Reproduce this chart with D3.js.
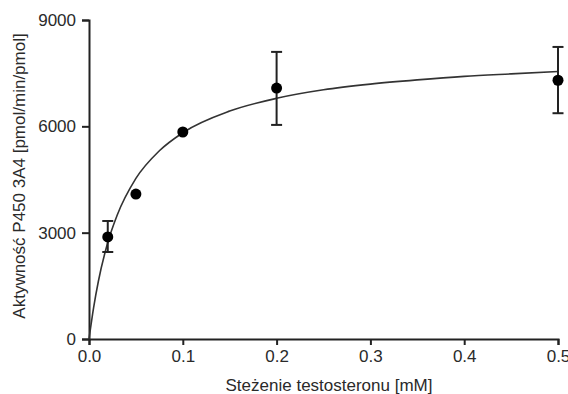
<!DOCTYPE html>
<html><head><meta charset="utf-8">
<script src="https://cdn.jsdelivr.net/npm/d3@7"></script>
<style>body{margin:0;background:#fff}text{font-family:"Liberation Sans",Arial,sans-serif}</style>
</head><body><svg id="c" width="568" height="394"></svg>
<script>
const conc = [0.02, 0.05, 0.1, 0.2, 0.5];
const activity = [2880, 4090, 5840, 7080, 7300];
const errLow = [2455, 4090, 5840, 6040, 6370];
const errHigh = [3330, 4090, 5840, 8100, 8240];
const fitX = [0, 0.005, 0.01, 0.02, 0.03, 0.05, 0.075, 0.1, 0.15, 0.2, 0.25, 0.3, 0.35, 0.4, 0.45, 0.5];
const fitY = [0, 900, 1630, 2720, 3490, 4530, 5310, 5820, 6430, 6790, 7030, 7190, 7310, 7410, 7480, 7545];
const xTicks = [0, 0.1, 0.2, 0.3, 0.4, 0.5];
const yTicks = [0, 3000, 6000, 9000];
const xLabel = "Steżenie testosteronu [mM]";
const yLabel = "Aktywność P450 3A4 [pmol/min/pmol]";

const svg = d3.select("#c");
const x = d3.scaleLinear().domain([0, 0.5]).range([89, 558]);
const y = d3.scaleLinear().domain([0, 9000]).range([339, 20]);
const ink = "#222";
const txt = "#2a2a2a";

const gx = svg.append("g").attr("transform", "translate(0,339)")
  .call(d3.axisBottom(x).tickValues(xTicks).tickFormat(d3.format(".1f")).tickSizeOuter(0).tickSize(6).tickPadding(5));
const gy = svg.append("g").attr("transform", "translate(89,0)")
  .call(d3.axisLeft(y).tickValues(yTicks).tickFormat(d3.format("d")).tickSizeOuter(0).tickSize(7).tickPadding(6));
[gx, gy].forEach(g => {
  g.select(".domain").attr("stroke", ink).attr("stroke-width", 2);
  g.selectAll(".tick line").attr("stroke", ink).attr("stroke-width", 2);
  g.selectAll(".tick text").attr("fill", txt).style("font-size", "17px").style("font-family", "'Liberation Sans',Arial,sans-serif");
});

svg.append("text").attr("x", 329).attr("y", 391).attr("text-anchor", "middle")
  .attr("fill", txt).style("font-size", "17px").text(xLabel);
svg.append("text").attr("transform", "translate(25,176) rotate(-90)").attr("text-anchor", "middle")
  .attr("fill", txt).style("font-size", "17px").text(yLabel);

const line = d3.line().x((d, i) => x(fitX[i])).y((d, i) => y(fitY[i])).curve(d3.curveMonotoneX);
svg.append("path").datum(fitX).attr("d", line).attr("fill", "none").attr("stroke", "#333").attr("stroke-width", 1.6);

const pts = conc.map((c, i) => ({c, v: activity[i], lo: errLow[i], hi: errHigh[i]}));
const eb = svg.append("g").attr("stroke", ink).attr("stroke-width", 2);
pts.filter(d => d.hi > d.lo).forEach(d => {
  eb.append("line").attr("x1", x(d.c)).attr("x2", x(d.c)).attr("y1", y(d.lo)).attr("y2", y(d.hi));
  [d.lo, d.hi].forEach(v => eb.append("line").attr("x1", x(d.c) - 5.5).attr("x2", x(d.c) + 5.5).attr("y1", y(v)).attr("y2", y(v)));
});
svg.append("g").selectAll("circle").data(pts).join("circle")
  .attr("cx", d => x(d.c)).attr("cy", d => y(d.v)).attr("r", 5.5).attr("fill", "#000");
</script></body></html>
